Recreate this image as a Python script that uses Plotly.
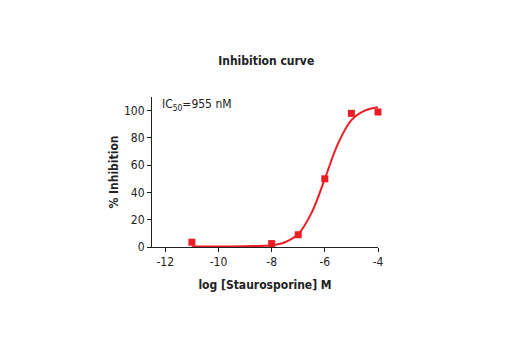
import plotly.graph_objects as go

# Measured data points
log_conc = [-11, -8, -7, -6, -5, -4]
inhibition = [3.5, 2.5, 9, 50, 98, 99]

# Fitted curve
curve_x = [-11, -10, -9, -8, -7.5, -7, -6.5, -6, -5.5, -5, -4.5, -4]
curve_y = [0.3, 0.4, 0.6, 1.2, 3.5, 9.5, 25, 50, 76, 93, 100, 102.5]

x_ticks = [-12, -10, -8, -6, -4]
x_tick_labels = ["-12", "-10", "-8", "-6", "-4"]
y_ticks = [0, 20, 40, 60, 80, 100]

RED = "#ec1c24"
FONT = "DejaVu Sans Condensed, Roboto, sans-serif"

fig = go.Figure()
fig.add_trace(go.Scatter(x=curve_x, y=curve_y, mode="lines",
                         line=dict(color=RED, width=2, shape="spline", smoothing=1.0),
                         hoverinfo="skip", cliponaxis=False))
fig.add_trace(go.Scatter(x=log_conc, y=inhibition, mode="markers",
                         marker=dict(symbol="square", size=7, color=RED),
                         cliponaxis=False))

fig.add_annotation(x=0.035, y=0.95, xref="paper", yref="paper",
                   text="IC<sub>50</sub>=955 nM", showarrow=False,
                   xanchor="left", yanchor="middle",
                   font=dict(family=FONT, size=12, color="#222"))

fig.update_layout(
    width=520, height=350,
    margin=dict(l=152, r=142, t=97, b=103),
    paper_bgcolor="white", plot_bgcolor="white",
    showlegend=False,
    font=dict(family=FONT, size=12, color="#222"),
    title=dict(text="<b>Inhibition curve</b>", x=0.512, xanchor="center",
               y=1 - 61 / 350, yanchor="middle",
               font=dict(family=FONT, size=12, color="#222")),
    xaxis=dict(range=[-12.5, -4], tickvals=x_ticks, ticktext=x_tick_labels,
               showgrid=False, zeroline=False,
               showline=True, linecolor="#222", linewidth=1,
               ticks="outside", ticklen=4, tickcolor="#222",
               title=dict(text="<b>log [Staurosporine] M</b>", standoff=12,
                          font=dict(family=FONT, size=12))),
    yaxis=dict(range=[0, 110], tickvals=y_ticks, showgrid=False, zeroline=False,
               showline=True, linecolor="#222", linewidth=1,
               ticks="outside", ticklen=4, tickcolor="#222",
               title=dict(text="<b>% Inhibition</b>", standoff=2,
                          font=dict(family=FONT, size=12))),
)

fig.write_html("out.html")
